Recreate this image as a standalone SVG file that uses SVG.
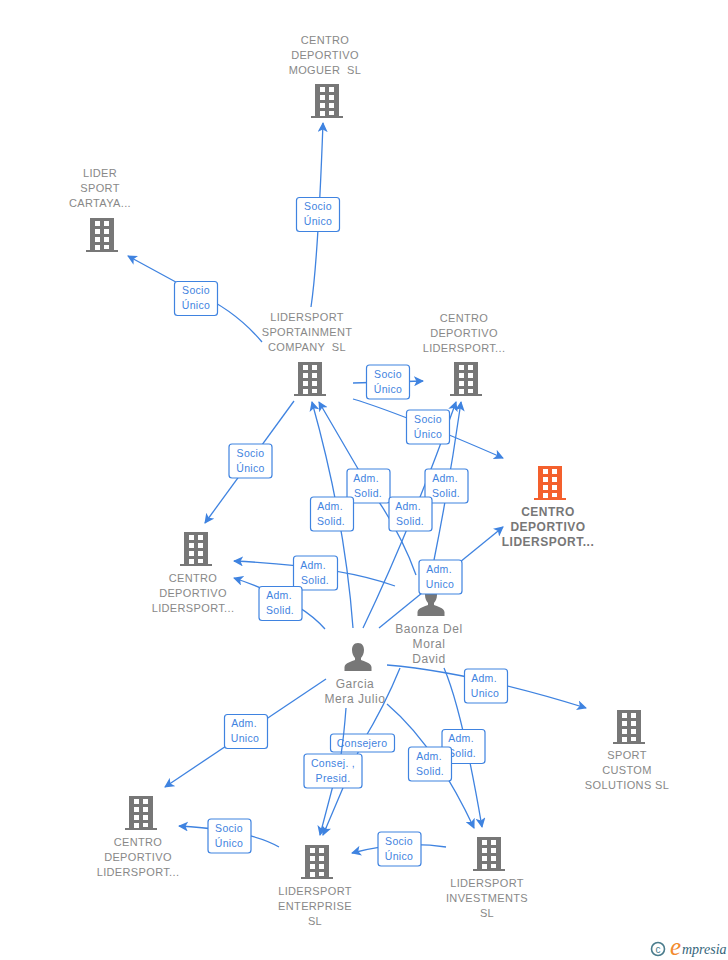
<svg xmlns="http://www.w3.org/2000/svg" xmlns:xlink="http://www.w3.org/1999/xlink" width="728" height="960" viewBox="0 0 728 960">
<style>
.n{font:11px "Liberation Sans",Arial,sans-serif;fill:#888;text-anchor:middle;letter-spacing:.35px;white-space:pre}
.p{font-size:12px;letter-spacing:.55px}
.r{font:bold 12px "Liberation Sans",Arial,sans-serif;fill:#777;text-anchor:middle;letter-spacing:.5px}
.c{fill:none;stroke:#3f83e0;stroke-width:1.3;marker-end:url(#a)}
.b{fill:#fff;stroke:#3f83e0;stroke-width:1.2}
.t{font:10.5px "Liberation Sans",Arial,sans-serif;fill:#3f83e0;text-anchor:middle;letter-spacing:.3px}
</style>
<defs>
<marker id="a" viewBox="0 0 10 10" refX="9" refY="5" markerWidth="10" markerHeight="10" markerUnits="userSpaceOnUse" orient="auto"><path d="M0 0L10 5L0 10L2.5 5Z" fill="#3f83e0"/></marker>
<symbol id="bd" viewBox="0 0 32 34" width="32" height="34">
<path fill-rule="evenodd" d="M4 0H28V32H32V34H0V32H4ZM9 3V8H14V3ZM18 3V8H23V3ZM9 11V16H14V11ZM18 11V16H23V11ZM9 19V24H14V19ZM18 19V24H23V19ZM9 27V32H14V27ZM18 27V31H23V27Z" fill="currentColor"/>
</symbol>
<symbol id="pn" viewBox="0 0 28 28" width="28" height="28">
<path d="M14 0C18.500 0 20 3.500 20 7C20 10.500 18.500 13.500 17 15V17C20 18.500 27 19.500 27.500 24V28H0.500V24C1 19.500 8 18.500 11 17V15C9.500 13.500 8 10.500 8 7C8 3.500 9.500 0 14 0Z" fill="#777"/>
</symbol>
</defs>
<g id="n-moguer" color="#777"><use href="#bd" x="311" y="84"/><text class="n"><tspan x="325" y="44">CENTRO</tspan><tspan x="325" y="59">DEPORTIVO</tspan><tspan x="325" y="74">MOGUER  SL</tspan></text></g>
<g id="n-cartaya" color="#777"><use href="#bd" x="86" y="218"/><text class="n"><tspan x="100" y="177">LIDER</tspan><tspan x="100" y="192">SPORT</tspan><tspan x="100" y="207">CARTAYA...</tspan></text></g>
<g id="n-sportainment" color="#777"><use href="#bd" x="294" y="362"/><text class="n"><tspan x="307" y="321">LIDERSPORT</tspan><tspan x="307" y="336">SPORTAINMENT</tspan><tspan x="307" y="351">COMPANY  SL</tspan></text></g>
<g id="n-centro-top" color="#777"><use href="#bd" x="450" y="362"/><text class="n"><tspan x="464" y="322">CENTRO</tspan><tspan x="464" y="337">DEPORTIVO</tspan><tspan x="464" y="352">LIDERSPORT...</tspan></text></g>
<g id="n-red" color="#f4602d"><use href="#bd" x="534" y="466"/><text class="r"><tspan x="548" y="516">CENTRO</tspan><tspan x="548" y="531">DEPORTIVO</tspan><tspan x="548" y="546">LIDERSPORT...</tspan></text></g>
<g id="n-centro-left" color="#777"><use href="#bd" x="180" y="532"/><text class="n"><tspan x="193" y="582">CENTRO</tspan><tspan x="193" y="597">DEPORTIVO</tspan><tspan x="193" y="612">LIDERSPORT...</tspan></text></g>
<g id="n-custom" color="#777"><use href="#bd" x="613" y="710"/><text class="n"><tspan x="627" y="759">SPORT</tspan><tspan x="627" y="774">CUSTOM</tspan><tspan x="627" y="789">SOLUTIONS SL</tspan></text></g>
<g id="n-centro-bottom" color="#777"><use href="#bd" x="125" y="796"/><text class="n"><tspan x="138" y="846">CENTRO</tspan><tspan x="138" y="861">DEPORTIVO</tspan><tspan x="138" y="876">LIDERSPORT...</tspan></text></g>
<g id="n-enterprise" color="#777"><use href="#bd" x="301" y="845"/><text class="n"><tspan x="315" y="895">LIDERSPORT</tspan><tspan x="315" y="910">ENTERPRISE</tspan><tspan x="315" y="925">SL</tspan></text></g>
<g id="n-investments" color="#777"><use href="#bd" x="473" y="837"/><text class="n"><tspan x="487" y="887">LIDERSPORT</tspan><tspan x="487" y="902">INVESTMENTS</tspan><tspan x="487" y="917">SL</tspan></text></g>
<g id="n-baonza"><use href="#pn" x="417" y="588"/><text class="n p"><tspan x="429" y="633">Baonza Del</tspan><tspan x="429" y="648">Moral</tspan><tspan x="429" y="663">David</tspan></text></g>
<g id="n-garcia"><use href="#pn" x="344" y="643"/><text class="n p"><tspan x="355" y="688">Garcia</tspan><tspan x="355" y="703">Mera Julio</tspan></text></g>
<g id="connectors">
<path class="c" d="M311 307Q318 260 323 123"/>
<path class="c" d="M262 342Q235 310 196 293L128 256"/>
<path class="c" d="M353 383L423 381"/>
<path class="c" d="M353 399Q400 413 503 458"/>
<path class="c" d="M294 401L205 523"/>
<path class="c" d="M353 628Q345 520 312 402"/>
<path class="c" d="M416 575Q400 530 368 486L319 402"/>
<path class="c" d="M363 628Q410 530 456 402"/>
<path class="c" d="M434 560Q450 480 461 402"/>
<path class="c" d="M395 586Q340 566 234 561"/>
<path class="c" d="M325 629Q300 600 234 578"/>
<path class="c" d="M379 628L503 527"/>
<path class="c" d="M387 665Q470 672 586 708"/>
<path class="c" d="M326 679L165 787"/>
<path class="c" d="M400 668Q385 705 362 743L323 835"/>
<g id="l-moguer"><rect class="b" x="296.500" y="197.500" width="43" height="34" rx="3"/><text class="t"><tspan x="318" y="210">Socio</tspan><tspan x="318" y="225">Único</tspan></text></g>
<g id="l-cartaya"><rect class="b" x="174.500" y="281.500" width="43" height="34" rx="3"/><text class="t"><tspan x="196" y="294">Socio</tspan><tspan x="196" y="309">Único</tspan></text></g>
<g id="l-top"><rect class="b" x="366.500" y="365" width="43" height="34" rx="3"/><text class="t"><tspan x="388" y="378">Socio</tspan><tspan x="388" y="393">Único</tspan></text></g>
<g id="l-red"><rect class="b" x="406.500" y="410" width="43" height="34" rx="3"/><text class="t"><tspan x="428" y="423">Socio</tspan><tspan x="428" y="438">Único</tspan></text></g>
<g id="l-left"><rect class="b" x="229" y="444" width="43" height="34" rx="3"/><text class="t"><tspan x="250.500" y="457">Socio</tspan><tspan x="250.500" y="472">Único</tspan></text></g>
<g id="l-s1"><rect class="b" x="347" y="469" width="43" height="34" rx="3"/><text class="t"><tspan x="366" y="482">Adm.</tspan><tspan x="368" y="497">Solid.</tspan></text></g>
<g id="l-s2"><rect class="b" x="425" y="469" width="43" height="34" rx="3"/><text class="t"><tspan x="445" y="482">Adm.</tspan><tspan x="446" y="497">Solid.</tspan></text></g>
<g id="l-s3"><rect class="b" x="310.500" y="497" width="43" height="34" rx="3"/><text class="t"><tspan x="330" y="510">Adm.</tspan><tspan x="331" y="525">Solid.</tspan></text></g>
<g id="l-s4"><rect class="b" x="389" y="497" width="43" height="34" rx="3"/><text class="t"><tspan x="408" y="510">Adm.</tspan><tspan x="410" y="525">Solid.</tspan></text></g>
<g id="l-u1"><rect class="b" x="419" y="560" width="43" height="34" rx="3"/><text class="t"><tspan x="439" y="573">Adm.</tspan><tspan x="440" y="588">Unico</tspan></text></g>
<g id="l-s5"><rect class="b" x="293.500" y="556" width="44" height="34" rx="3"/><text class="t"><tspan x="313" y="569">Adm.</tspan><tspan x="315" y="584">Solid.</tspan></text></g>
<g id="l-s6"><rect class="b" x="259" y="586.500" width="43" height="34" rx="3"/><text class="t"><tspan x="279" y="599">Adm.</tspan><tspan x="280" y="614">Solid.</tspan></text></g>
<g id="l-u2"><rect class="b" x="464.500" y="669" width="43" height="34" rx="3"/><text class="t"><tspan x="484" y="682">Adm.</tspan><tspan x="485" y="697">Unico</tspan></text></g>
<g id="l-u3"><rect class="b" x="224.500" y="714.500" width="43" height="34" rx="3"/><text class="t"><tspan x="244" y="727">Adm.</tspan><tspan x="245" y="742">Unico</tspan></text></g>
<g id="l-cons"><rect class="b" x="330.500" y="734" width="64" height="18" rx="3"/><text class="t" x="362" y="747">Consejero</text></g>
<path class="c" d="M346 708Q344 735 341 755L320 835"/>
<path class="c" d="M444 668Q462 710 482 827"/>
<path class="c" d="M387 704Q435 745 474 828"/>
<g id="l-consej"><rect class="b" x="304" y="754" width="58" height="34" rx="3"/><text class="t"><tspan x="333" y="767">Consej. ,</tspan><tspan x="333" y="782">Presid.</tspan></text></g>
<g id="l-s7"><rect class="b" x="442" y="729.500" width="43" height="34" rx="3"/><text class="t"><tspan x="461" y="742">Adm.</tspan><tspan x="462" y="757">Solid.</tspan></text></g>
<g id="l-s8"><rect class="b" x="408.500" y="747" width="43" height="34" rx="3"/><text class="t"><tspan x="429" y="760">Adm.</tspan><tspan x="430" y="775">Solid.</tspan></text></g>
<path class="c" d="M446 847Q400 840 352 853"/>
<path class="c" d="M279 847Q250 830 179 826"/>
<g id="l-s9"><rect class="b" x="208" y="819" width="43" height="34" rx="3"/><text class="t"><tspan x="229" y="832">Socio</tspan><tspan x="229" y="847">Único</tspan></text></g>
<g id="l-s10"><rect class="b" x="378" y="832" width="43" height="34" rx="3"/><text class="t"><tspan x="399" y="845">Socio</tspan><tspan x="399" y="860">Único</tspan></text></g>
</g>
<g id="logo"><circle cx="658" cy="949" r="6.500" fill="none" stroke="#4a7c8c" stroke-width="1.600"/><text x="658" y="952.500" font-family="Liberation Sans,sans-serif" font-size="10" fill="#4a7c8c" text-anchor="middle">c</text><text x="670" y="955" font-family="Liberation Serif,serif" font-style="italic" font-size="25" fill="#f28a2e">e</text><text x="682" y="954" font-family="Liberation Serif,serif" font-style="italic" font-size="14" fill="#35657a">mpresia</text></g>
</svg>
